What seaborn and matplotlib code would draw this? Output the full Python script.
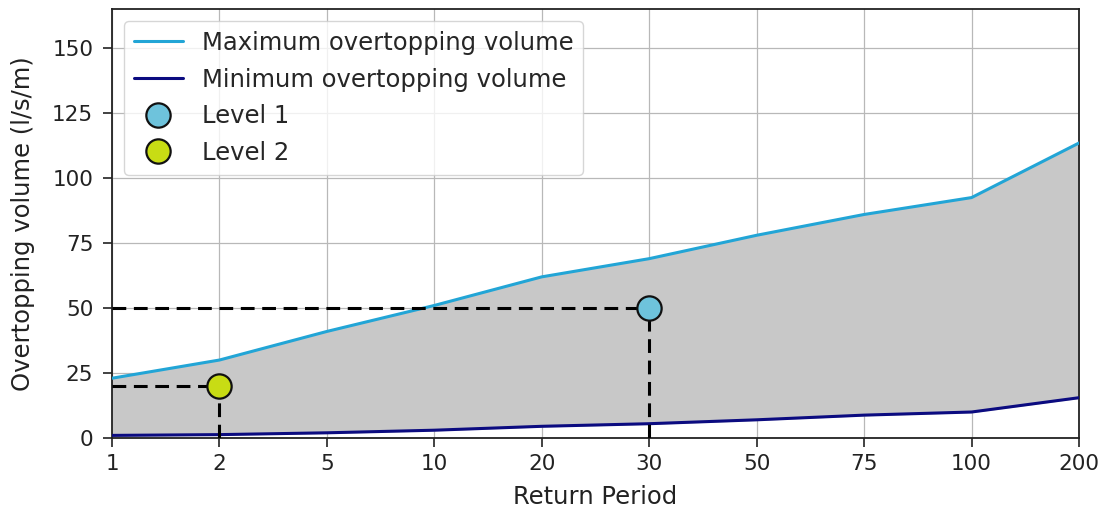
import matplotlib
matplotlib.use("Agg")
import matplotlib.pyplot as plt
import seaborn as sns
import numpy as np
import pandas as pd

return_periods = ["1", "2", "5", "10", "20", "30", "50", "75", "100", "200"]
max_volume = [23, 30, 41, 51, 62, 69, 78, 86, 92.5, 113.5]
min_volume = [1, 1.3, 2, 3, 4.5, 5.5, 7, 8.8, 10, 15.5]
level1_period, level1_value = "30", 50
level2_period, level2_value = "2", 20

sns.set_style("ticks")
plt.rcParams['font.family'] = ['DejaVu Sans']

fig = plt.figure(figsize=(11.06, 5.13), dpi=100)
ax = fig.add_axes([0.1013, 0.1462, 0.8743, 0.836])

pos = np.arange(len(return_periods))
df = pd.DataFrame({"pos": pos, "max": max_volume, "min": min_volume})

ax.fill_between(df["pos"], df["min"], df["max"], color="#c8c8c8", zorder=1)
sns.lineplot(data=df, x="pos", y="max", ax=ax, color="#22a5d6", lw=2.2,
             label="Maximum overtopping volume", zorder=3)
sns.lineplot(data=df, x="pos", y="min", ax=ax, color="#0b0b80", lw=2.2,
             label="Minimum overtopping volume", zorder=3)

p1 = return_periods.index(level1_period)
p2 = return_periods.index(level2_period)
for p, v in [(p1, level1_value), (p2, level2_value)]:
    ax.plot([0, p], [v, v], ls="--", color="black", lw=2.2, dashes=(4.5, 2.5), zorder=4)
    ax.plot([p, p], [0, v], ls="--", color="black", lw=2.2, dashes=(4.5, 2.5), zorder=4)

ax.plot([p1], [level1_value], "o", ms=17.5, mfc="#6ec3dc", mec="#111111", mew=1.6,
        ls="none", label="Level 1", zorder=5)
ax.plot([p2], [level2_value], "o", ms=17.5, mfc="#c8dc14", mec="#111111", mew=1.6,
        ls="none", label="Level 2", zorder=5)

ax.set_xlim(0, len(return_periods) - 1)
ax.set_ylim(0, 165)
ax.set_xticks(pos)
ax.set_xticklabels(return_periods)
ax.set_yticks([0, 25, 50, 75, 100, 125, 150])
ax.tick_params(labelsize=15.5, length=6.5, width=1.2, colors="#222222")
ax.tick_params(axis="y", pad=7)
ax.tick_params(axis="x", pad=5)
ax.grid(True, color="#b8b8b8", lw=0.9, zorder=0)
ax.set_axisbelow(True)
ax.set_xlabel("Return Period", fontsize=17.5, color="#222222", labelpad=8)
ax.set_ylabel("Overtopping volume (l/s/m)", fontsize=17.5, color="#222222", labelpad=12)
for s in ax.spines.values():
    s.set_color("#222222")
    s.set_linewidth(1.3)

ax.legend(loc="upper left", fontsize=17.5, framealpha=0.8, handlelength=2.0,
          borderaxespad=0.5, labelspacing=0.52, handletextpad=0.8)

fig.savefig("out.png", dpi=100)
